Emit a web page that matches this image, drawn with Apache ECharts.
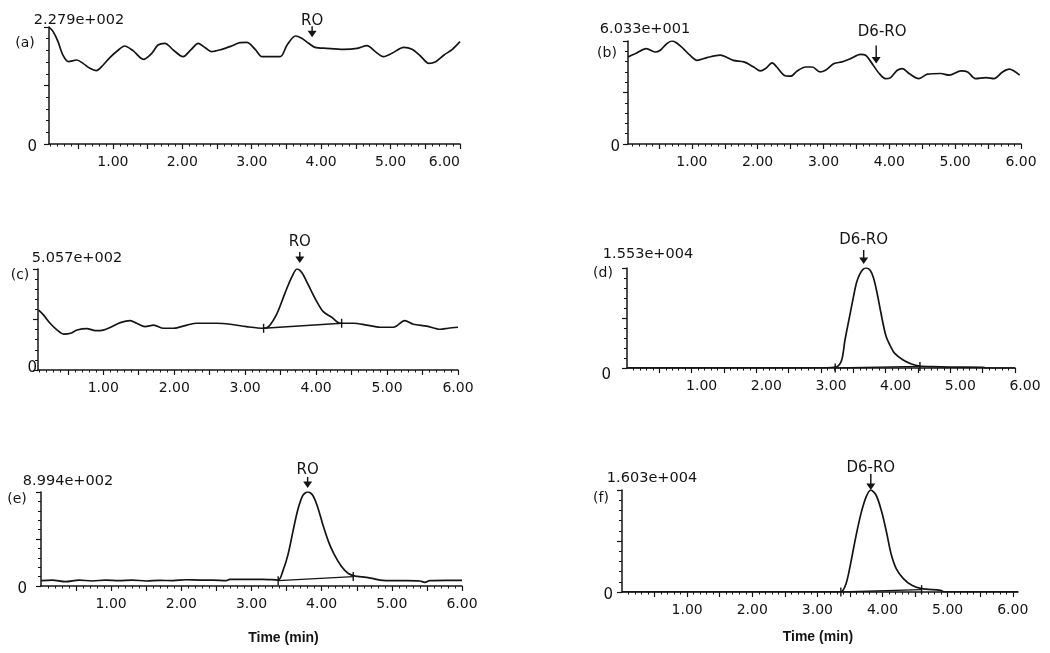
<!DOCTYPE html>
<html>
<head>
<meta charset="utf-8">
<script src="https://cdn.jsdelivr.net/npm/echarts@6/dist/echarts.min.js"></script>
<style>
html,body{margin:0;padding:0;background:#fff;}
#chart{width:1050px;height:653px;}
</style>
</head>
<body>
<div id="chart"></div>
<script>
// ---------------- data ----------------
const xTickLabels = ['1.00','2.00','3.00','4.00','5.00','6.00'];
const xTickValues = [1,2,3,4,5,6];
const panelLetters = ['(a)','(b)','(c)','(d)','(e)','(f)'];
const scaleLabels = ['2.279e+002','6.033e+001','5.057e+002','1.553e+004','8.994e+002','1.603e+004'];
const scaleMax = [227.9, 60.33, 505.7, 15530, 899.4, 16030];
const peakNames = ['RO','D6-RO','RO','D6-RO','RO','D6-RO'];
const peakTimes = [3.87, 3.80, 3.77, 3.66, 3.80, 3.82];
// arrow tip value (capped at the panel's full scale; extra lift above the top is layout)
const peakTipValues = [208, 47.1, 505.7, 15530, 899.4, 16030];

const timesA = [0.08,0.14,0.21,0.28,0.36,0.48,0.57,0.67,0.76,0.86,0.96,1.08,1.17,1.29,1.44,1.56,1.65,1.75,1.87,2.01,2.13,2.23,2.33,2.42,2.57,2.71,2.83,2.93,3.05,3.15,3.28,3.41,3.51,3.63,3.72,3.82,3.91,4.08,4.32,4.52,4.66,4.78,4.90,5.02,5.19,5.31,5.43,5.55,5.65,5.77,5.89,6.00];
const valuesA = [227.9,218.8,199.3,173.4,160.4,163.6,157.1,147.4,142.8,153.9,168.8,183.1,190.9,181.8,164.9,176.6,192.8,196.1,183.1,170.1,184.4,196.1,187.6,179.9,184.4,190.9,197.4,198.0,184.4,170.1,170.1,170.1,192.8,210.4,205.8,196.1,188.3,186.3,184.4,186.3,191.5,179.9,170.1,176.6,188.3,184.4,171.4,157.1,160.4,173.4,184.4,199.3];

const timesB = [0.03,0.14,0.31,0.44,0.52,0.62,0.70,0.77,0.87,0.97,1.08,1.23,1.43,1.63,1.79,1.94,2.04,2.12,2.22,2.29,2.40,2.50,2.60,2.73,2.83,2.95,3.03,3.16,3.28,3.41,3.56,3.64,3.72,3.84,3.94,4.02,4.12,4.20,4.30,4.45,4.58,4.78,4.91,5.09,5.19,5.31,5.47,5.59,5.72,5.82,5.98];
const valuesB = [51.0,52.9,55.9,53.9,54.9,58.8,60.33,59.2,55.9,52.0,49.0,50.6,52.0,49.0,48.1,45.1,42.8,44.2,47.5,45.1,40.3,39.7,42.8,45.1,45.1,42.2,43.2,47.1,48.1,50.0,52.5,52.0,48.1,41.6,38.3,38.9,43.2,44.2,41.3,38.3,40.9,41.3,40.3,42.8,42.2,38.3,38.9,38.3,42.2,43.8,40.3];

const timesC = [0.09,0.16,0.25,0.35,0.44,0.54,0.63,0.77,0.89,1.00,1.12,1.24,1.38,1.47,1.59,1.71,1.85,1.99,2.18,2.32,2.60,2.79,3.02,3.26,3.33,3.45,3.56,3.66,3.73,3.80,3.89,4.01,4.10,4.22,4.34,4.53,4.71,4.90,5.09,5.25,5.37,5.56,5.75,5.86,6.00];
const valuesC = [300,275,234,200,180,184,200,207,197,200,217,237,247,234,217,225,209,209,225,234,234,229,217,209,217,284,384,467,505.7,487,426,342,292,264,234,234,225,214,214,247,229,220,204,209,214];
const baseTimesC = [3.26, 4.36];
const baseValuesC = [209, 234];

const timesD = [0,0.5,1.0,1.5,2.0,2.5,3.0,3.24,3.32,3.37,3.44,3.50,3.55,3.60,3.65,3.70,3.76,3.81,3.86,3.91,3.96,4.01,4.08,4.14,4.27,4.40,4.53,4.73,5.00,5.50,5.55,6.0];
const valuesD = [30,30,30,30,30,30,40,200,1230,4306,7890,10966,13273,14565,15334,15530,15180,14040,11996,9428,6875,4814,3276,2261,1230,615,308,200,150,120,0,0];
const baseTimesD = [3.22, 4.53];
const baseValuesD = [0, 250];

const timesE = [0,0.16,0.35,0.54,0.73,0.92,1.11,1.30,1.50,1.69,1.88,2.07,2.26,2.45,2.64,2.69,2.92,3.16,3.38,3.45,3.52,3.59,3.66,3.73,3.80,3.87,3.94,4.02,4.10,4.18,4.28,4.38,4.48,4.58,4.70,4.83,5.02,5.21,5.40,5.47,5.54,5.78,6.00];
const valuesE = [51,57,41,57,48,57,51,57,48,54,51,60,57,57,51,64,64,64,57,150,300,520,730,865,899.4,870,760,580,420,300,190,120,95,88,75,57,51,51,48,35,51,54,54];
const baseTimesE = [3.38, 4.45];
const baseValuesE = [51, 90];

const timesF = [0,0.5,1.0,1.5,2.0,2.5,3.0,3.36,3.44,3.51,3.59,3.67,3.75,3.82,3.90,3.98,4.06,4.13,4.21,4.32,4.45,4.60,4.89,4.94,5.5,6.08];
const valuesF = [40,40,40,40,40,40,40,40,1314,4468,8672,12352,14980,16030,15242,12877,9461,6044,3679,2102,1051,526,263,50,40,40];
const baseTimesF = [3.36, 4.60];
const baseValuesF = [0, 370];

// ---------------- layout / style ----------------
const INK = '#141414';
const FONT = 'DejaVu Sans';
const layouts = [
  {grid:{left:49, top:27, width:411, height:117}, xMin:0.08, xMax:6.0, nameGap:7, nameShift:30, zeroMargin:12, zeroDy:3, letter:[25,43], arrowH:11, lift:0, labelOffset:[0,4], alignMax:'right', labelShift:0},
  {grid:{left:628, top:41, width:393, height:103}, xMin:0.03, xMax:6.0, nameGap:12, nameShift:17, zeroMargin:8, zeroDy:3, letter:[607,53], arrowH:18, lift:0, labelOffset:[6,-4], labelShift:0},
  {grid:{left:38, top:269, width:420, height:101}, xMin:0.08, xMax:6.0, nameGap:11, nameShift:39, zeroMargin:1, zeroDy:-2, letter:[20,275], arrowH:11, lift:6, labelOffset:[0,0], labelShift:0},
  {grid:{left:627, top:268, width:388, height:100}, xMin:0, xMax:6.0, nameGap:14, nameShift:21, zeroMargin:16, zeroDy:7, letter:[603,273], arrowH:14, lift:4, labelOffset:[0,0], labelShift:10},
  {grid:{left:41, top:492, width:421, height:94}, xMin:0, xMax:6.0, nameGap:11, nameShift:27, zeroMargin:14, zeroDy:3, letter:[17,499], arrowH:11, lift:4, labelOffset:[0,3], labelShift:0, timeGap:52, timeShift:32},
  {grid:{left:622, top:490, width:396, height:102}, xMin:0, xMax:6.08, nameGap:12, nameShift:30, zeroMargin:9, zeroDy:3, letter:[601,498], arrowH:16, lift:0, labelOffset:[0,4], labelShift:0, timeGap:45, timeShift:-2}
];

const traces = [[timesA,valuesA],[timesB,valuesB],[timesC,valuesC],[timesD,valuesD],[timesE,valuesE],[timesF,valuesF]];
const baselines = [null,null,[baseTimesC,baseValuesC],[baseTimesD,baseValuesD],[baseTimesE,baseValuesE],[baseTimesF,baseValuesF]];

const majorTicks = [];
for (let k = 1; k <= 12; k++) majorTicks.push(k * 0.5);
const minorTicks = [];
for (let k = 1; k <= 61; k++) { if (k % 5 !== 0) minorTicks.push(k / 10); }

function arrowPath(h) {
  const s = h - 6.5;
  return 'path://M4.2,0L5.8,0L5.8,' + s + 'L10,' + s + 'L5,' + h + 'L0,' + s + 'L4.2,' + s + 'Z';
}
function pairs(ts, vs) { return ts.map((t, i) => [t, vs[i]]); }

const grids = [], xAxes = [], yAxes = [], series = [], graphics = [];
layouts.forEach((L, i) => {
  grids.push(Object.assign({containLabel:false}, L.grid));
  const inRange = v => v >= L.xMin - 1e-9 && v <= L.xMax + 1e-9;
  const xMain = {
    gridIndex:i, type:'value', position:'bottom', min:L.xMin, max:L.xMax,
    axisLine:{show:true, lineStyle:{color:INK, width:1.5}},
    axisTick:{show:true, customValues: majorTicks.filter(inRange), length:5, lineStyle:{color:INK, width:1.2}},
    axisLabel:{show:true, customValues: xTickValues.filter(inRange),
      formatter: v => xTickLabels[xTickValues.indexOf(Math.round(v))] || '',
      margin:11, fontSize:14, fontFamily:FONT, color:INK,
      padding: L.labelShift ? [0,0,0,2*L.labelShift] : 0},
    splitLine:{show:false}
  };
  if (L.alignMax) xMain.axisLabel.alignMaxLabel = L.alignMax;
  if (L.timeGap) {
    xMain.name = 'Time (min)';
    xMain.nameLocation = 'middle';
    xMain.nameGap = L.timeGap;
    xMain.nameTextStyle = {fontSize:14, fontWeight:'bold', fontFamily:'Liberation Sans', color:INK,
      verticalAlign:'middle', align:'center',
      padding: L.timeShift > 0 ? [0,0,0,2*L.timeShift] : [0,-2*L.timeShift,0,0]};
  }
  xAxes.push(xMain);
  xAxes.push({
    gridIndex:i, type:'value', position:'bottom', min:L.xMin, max:L.xMax,
    axisLine:{show:false},
    axisTick:{show:true, customValues: minorTicks.filter(inRange), length:2.5, lineStyle:{color:INK, width:1}},
    axisLabel:{show:false}, splitLine:{show:false}
  });
  const M = scaleMax[i];
  yAxes.push({
    gridIndex:i, type:'value', min:0, max:M, interval:M/2,
    axisLine:{show:true, lineStyle:{color:INK, width:1.5}},
    axisTick:{show:true, length:5, lineStyle:{color:INK, width:1.2}},
    minorTick:{show:true, splitNumber:5, length:3, lineStyle:{color:INK, width:1}},
    axisLabel:{show:true, customValues:[0], formatter:() => '{z|0}', margin:L.zeroMargin,
      rich:{z:{fontSize:15, fontFamily:FONT, color:INK,
        padding: L.zeroDy >= 0 ? [2*L.zeroDy,0,0,0] : [0,0,-2*L.zeroDy,0]}}},
    splitLine:{show:false}, minorSplitLine:{show:false},
    name: scaleLabels[i], nameLocation:'end', nameGap:L.nameGap,
    nameTextStyle:{fontSize:14.5, fontFamily:FONT, color:INK, align:'center', verticalAlign:'middle',
      padding:[0,0,0,2*L.nameShift]}
  });
  const tr = traces[i];
  series.push({
    type:'line', xAxisIndex:2*i, yAxisIndex:i, data:pairs(tr[0], tr[1]),
    showSymbol:false, symbol:'none', smooth:0.3,
    lineStyle:{color:INK, width:1.7}, itemStyle:{color:INK},
    markPoint:{
      symbol:arrowPath(L.arrowH), symbolSize:[9, L.arrowH], symbolKeepAspect:false,
      symbolOffset:[0, -L.arrowH/2 - L.lift], itemStyle:{color:INK},
      label:{show:true, position:'top', distance:2, color:INK, fontSize:15, fontFamily:FONT, offset:L.labelOffset,
        formatter: peakNames[i]},
      data:[{coord:[peakTimes[i], peakTipValues[i]]}]
    }
  });
  const bl = baselines[i];
  if (bl) {
    series.push({
      type:'line', xAxisIndex:2*i, yAxisIndex:i, data:pairs(bl[0], bl[1]),
      showSymbol:true, symbol:'rect', symbolSize:[1.4, 9],
      lineStyle:{color:INK, width:1.3}, itemStyle:{color:INK}
    });
  }
  graphics.push({type:'text', x:L.letter[0], y:L.letter[1],
    style:{text:panelLetters[i], fill:INK, font:'14px "DejaVu Sans"', textAlign:'center', textVerticalAlign:'middle'}});
});

const chart = echarts.init(document.getElementById('chart'), null, {renderer:'canvas'});
chart.setOption({
  animation:false,
  backgroundColor:'#ffffff',
  grid:grids, xAxis:xAxes, yAxis:yAxes, series:series, graphic:graphics
});
</script>
</body>
</html>
